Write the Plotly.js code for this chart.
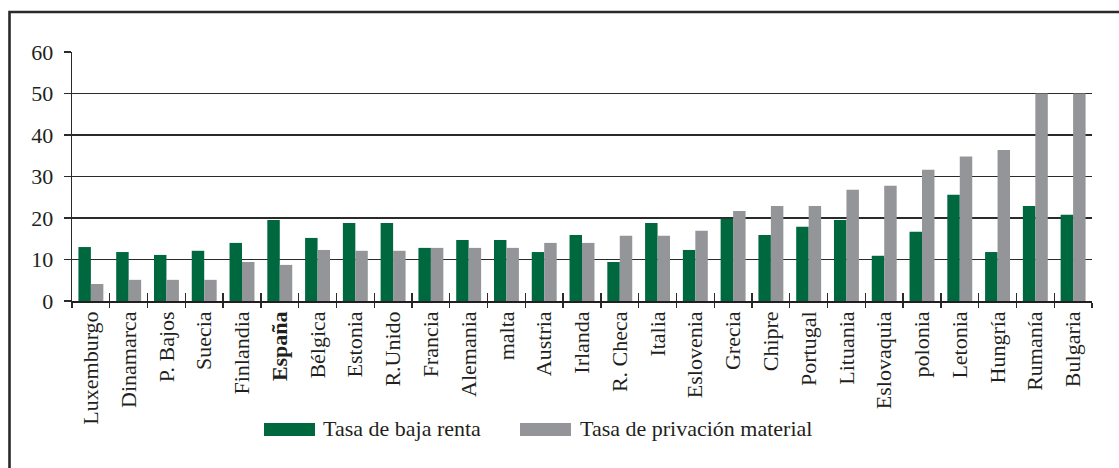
<!DOCTYPE html>
<html>
<head>
<meta charset="utf-8">
<script src="https://cdn.plot.ly/plotly-3.0.1.min.js"></script>
<style>html,body{margin:0;padding:0;background:#fff;}#chart{width:1119px;height:468px;}</style>
</head>
<body>
<div id="chart"></div>
<script>
var categories = ["Luxemburgo","Dinamarca","P. Bajos","Suecia","Finlandia","<b>España</b>","Bélgica","Estonia","R.Unido","Francia","Alemania","malta","Austria","Irlanda","R. Checa","Italia","Eslovenia","Grecia","Chipre","Portugal","Lituania","Eslovaquia","polonia","Letonia","Hungría","Rumanía","Bulgaria"];
var bajaRenta = [13.0,11.8,11.1,12.1,14.0,19.5,15.2,18.8,18.8,12.8,14.7,14.7,11.8,15.9,9.4,18.8,12.3,19.8,15.9,17.9,19.5,10.9,16.7,25.6,11.8,22.9,20.8];
var privacion = [4.1,5.1,5.1,5.1,9.4,8.7,12.3,12.1,12.1,12.8,12.8,12.8,14.0,14.0,15.7,15.7,16.9,21.7,22.9,22.9,26.8,27.8,31.6,34.8,36.4,50,50];
var seriesNames = ["Tasa de baja renta","Tasa de privación material"];
var yTicks = [0,10,20,30,40,50,60];

var GREEN = "#00683f", GREY = "#939598", INK = "#231f20", LINE = "#2a2a2a";
var FONT = {family: "Liberation Serif, Times New Roman, serif", size: 22, color: INK};

var traces = [
  {type: "bar", name: seriesNames[0], x: categories, y: bajaRenta, marker: {color: GREEN}, showlegend: false},
  {type: "bar", name: seriesNames[1], x: categories, y: privacion, marker: {color: GREY}, showlegend: false},
  {type: "scatter", mode: "markers", x: categories, y: categories.map(function(){return 0;}), xaxis: "x2", yaxis: "y",
   marker: {opacity: 0}, showlegend: false, hoverinfo: "skip"}
];

function px2x(p){ return (p - 72) / 1020; }
function px2y(p){ return (301 - p) / 249; }

var layout = {
  width: 1119, height: 468,
  margin: {l: 72, r: 27, t: 52, b: 167, pad: 0},
  paper_bgcolor: "#ffffff", plot_bgcolor: "#ffffff",
  font: FONT,
  barmode: "group", bargap: 0.34, bargroupgap: 0,
  xaxis: {
    type: "category", range: [-0.5, categories.length - 0.5], tickangle: -90,
    ticks: "outside", ticklen: 5, tickwidth: 1.3, tickcolor: LINE, tickson: "boundaries",
    showline: true, linecolor: INK, linewidth: 1.6, showgrid: false, zeroline: false,
    tickfont: FONT, automargin: false, fixedrange: true
  },
  xaxis2: {
    type: "category", overlaying: "x", anchor: "y", side: "bottom",
    range: [-0.5, categories.length - 0.5], categoryarray: categories, categoryorder: "array",
    ticks: "inside", ticklen: 8, tickwidth: 1.3, tickcolor: LINE, tickson: "boundaries",
    showticklabels: false, showline: false, showgrid: false, zeroline: false
  },
  yaxis: {
    range: [0, 60], tickvals: yTicks, ticktext: yTicks.map(String),
    ticks: "outside", ticklen: 7, tickwidth: 1.5, tickcolor: LINE, ticklabelstandoff: 6,
    showgrid: true, gridcolor: LINE, gridwidth: 1.5,
    showline: true, linecolor: LINE, linewidth: 1.3, zeroline: false,
    tickfont: FONT, automargin: false, fixedrange: true
  },
  shapes: [
    {type: "rect", xref: "paper", yref: "paper", x0: px2x(9.5), x1: px2x(1200), y0: px2y(600), y1: px2y(12),
     line: {color: LINE, width: 2.6}, fillcolor: "rgba(0,0,0,0)", layer: "above"},
    {type: "rect", xref: "paper", yref: "paper", x0: px2x(264), x1: px2x(315), y0: px2y(436), y1: px2y(423),
     line: {width: 0}, fillcolor: GREEN},
    {type: "rect", xref: "paper", yref: "paper", x0: px2x(520), x1: px2x(571), y0: px2y(436), y1: px2y(423),
     line: {width: 0}, fillcolor: GREY}
  ],
  annotations: [
    {xref: "paper", yref: "paper", x: px2x(321), y: px2y(428), xanchor: "left", yanchor: "middle",
     text: seriesNames[0], showarrow: false, font: FONT},
    {xref: "paper", yref: "paper", x: px2x(578), y: px2y(428), xanchor: "left", yanchor: "middle",
     text: seriesNames[1], showarrow: false, font: FONT}
  ]
};

Plotly.newPlot("chart", traces, layout, {staticPlot: true, displayModeBar: false});
</script>
</body>
</html>
